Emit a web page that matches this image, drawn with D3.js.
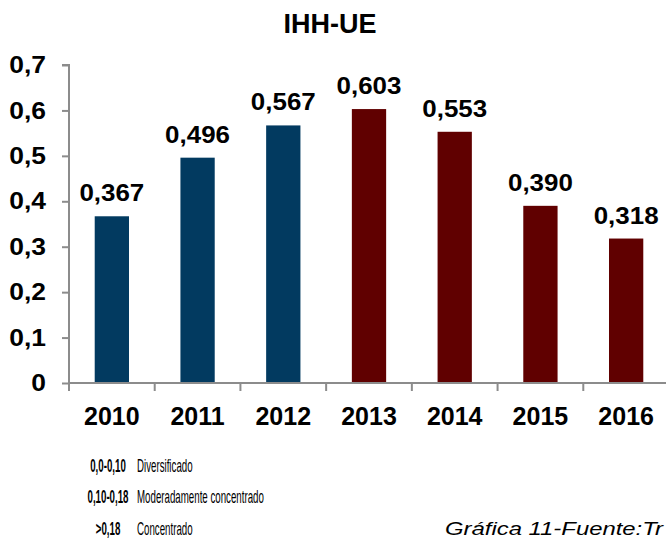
<!DOCTYPE html>
<html>
<head>
<meta charset="utf-8">
<script src="https://cdn.jsdelivr.net/npm/d3@7"></script>
<style>
  body { margin: 0; background: #fff; }
  text { font-family: "Liberation Sans", Arial, sans-serif; }
</style>
</head>
<body>
<div id="chart"></div>
<script>
// data
var years = [2010, 2011, 2012, 2013, 2014, 2015, 2016];
var ihh = [0.367, 0.496, 0.567, 0.603, 0.553, 0.390, 0.318];
var yTicks = [0, 0.1, 0.2, 0.3, 0.4, 0.5, 0.6, 0.7];
var legendRanges = ['0,0-0,10', '0,10-0,18', '>0,18'];
var legendNames = ['Diversificado', 'Moderadamente concentrado', 'Concentrado'];
var title = 'IHH-UE';
var source = 'Gráfica 11-Fuente:Tr';

var W = 666, H = 541;
var margin = { top: 65, left: 69, bottom: 158, right: -3 };

var svg = d3.select('#chart').append('svg')
    .attr('width', W)
    .attr('height', H);

// widen text a bit, the original glyphs look stretched
function stretch(sel, k) {
    sel.each(function () {
        var len = this.getComputedTextLength();
        d3.select(this).attr('textLength', len * k).attr('lengthAdjust', 'spacingAndGlyphs');
    });
}

var fmt = function (v, dec) { return v.toFixed(dec).replace('.', ','); };

var x = d3.scaleBand()
    .domain(years)
    .range([margin.left, W - margin.right])
    .paddingInner(0.6)
    .paddingOuter(0.3);

var y = d3.scaleLinear()
    .domain([0, 0.7])
    .range([H - margin.bottom, margin.top]);

var color = d3.scaleThreshold().domain([2013]).range(['#023a60', '#600000']);

// title
svg.append('text')
    .attr('x', 330).attr('y', 33)
    .attr('text-anchor', 'middle')
    .style('font-size', '27px').style('font-weight', 'bold')
    .text(title);

// bars
var data = years.map(function (d, i) { return { year: d, v: ihh[i] }; });

svg.selectAll('.bar')
    .data(data)
    .enter().append('rect')
    .attr('class', 'bar')
    .attr('x', function (d) { return x(d.year); })
    .attr('width', x.bandwidth())
    .attr('y', function (d) { return y(d.v); })
    .attr('height', function (d) { return y(0) - y(d.v); })
    .attr('fill', function (d) { return color(d.year); });

svg.selectAll('.val')
    .data(data)
    .enter().append('text')
    .attr('class', 'val')
    .attr('x', function (d) { return x(d.year) + x.bandwidth() / 2; })
    .attr('y', function (d) { return y(d.v) - 15; })
    .attr('text-anchor', 'middle')
    .style('font-size', '24px').style('font-weight', 'bold')
    .text(function (d) { return fmt(d.v, 3); })
    .call(stretch, 1.08);

// y axis
var yAxis = svg.append('g')
    .attr('transform', 'translate(' + margin.left + ',0)')
    .call(d3.axisLeft(y).tickValues(yTicks).tickSize(7).tickPadding(16)
        .tickFormat(function (d) { return d === 0 ? '0' : fmt(d, 1); }));
yAxis.select('.domain').attr('stroke', '#8c8c8c').attr('stroke-width', 2).attr('d', 'M-7,' + y(0.7) + 'H0V' + y(0));
yAxis.selectAll('.tick line').attr('stroke', '#8c8c8c').attr('stroke-width', 2);
yAxis.selectAll('.tick text')
    .attr('fill', '#000')
    .style('font-family', '"Liberation Sans", Arial, sans-serif')
    .style('font-size', '24px').style('font-weight', 'bold')
    .call(stretch, 1.1);

// x axis
var step = x.step();
svg.append('line')
    .attr('x1', margin.left).attr('x2', W)
    .attr('y1', y(0)).attr('y2', y(0))
    .attr('stroke', '#8c8c8c').attr('stroke-width', 2);

svg.selectAll('.xtick')
    .data(years)
    .enter().append('line')
    .attr('class', 'xtick')
    .attr('x1', function (d) { return x(d) - step * x.paddingOuter(); })
    .attr('x2', function (d) { return x(d) - step * x.paddingOuter(); })
    .attr('y1', y(0)).attr('y2', y(0) + 8)
    .attr('stroke', '#8c8c8c').attr('stroke-width', 2);

svg.selectAll('.xlab')
    .data(years)
    .enter().append('text')
    .attr('class', 'xlab')
    .attr('x', function (d) { return x(d) + x.bandwidth() / 2; })
    .attr('y', 425)
    .attr('text-anchor', 'middle')
    .style('font-size', '25px').style('font-weight', 'bold')
    .text(function (d) { return d; });

// legend (condensed text)
var legendY = [472, 503, 535];
var lg = svg.append('g');
legendRanges.forEach(function (r, i) {
    lg.append('text')
        .attr('transform', 'translate(108,' + legendY[i] + ') scale(0.54,1)')
        .attr('text-anchor', 'middle')
        .style('font-size', '18px').style('font-weight', 'bold')
        .text(r);
    lg.append('text')
        .attr('transform', 'translate(137,' + legendY[i] + ') scale(0.54,1)')
        .style('font-size', '18px')
        .text(legendNames[i]);
});

// source note, as far as the reference shows it
svg.append('text')
    .attr('x', 445).attr('y', 535)
    .style('font-size', '18px').style('font-style', 'italic')
    .attr('textLength', 218).attr('lengthAdjust', 'spacingAndGlyphs')
    .text(source);
</script>
</body>
</html>
